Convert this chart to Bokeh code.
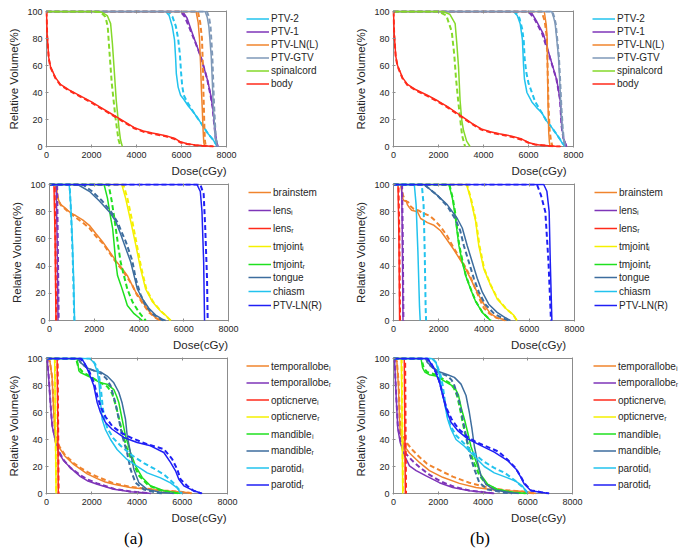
from bokeh.plotting import figure
from bokeh.models import (Legend, LegendItem, Title, LinearAxis, FixedTicker,
                          Range1d)
from bokeh.layouts import column, row
from bokeh.embed import file_html
from bokeh.resources import INLINE

# ---------------------------------------------------------------- data
X_TICKS = [0, 2000, 4000, 6000, 8000]
Y_TICKS = [0, 20, 40, 60, 80, 100]

# ---- panel (a) top
A1_PTV2_S = [(0,100),(5300,100),(5450,97),(5590,89),(5690,79),(5740,65),(5770,54),(5850,44),(5960,38),(6100,35),(6300,30),(6550,25),(6800,19),(7000,14),(7200,9),(7360,6),(7480,3),(7590,0)]
A1_PTV2_D = [(0,100),(5400,100),(5600,96),(5750,89),(5850,80),(5930,68),(5980,55),(6030,45),(6100,38),(6250,33),(6550,25),(6800,19),(7000,14),(7200,9),(7380,5.5),(7500,2.5),(7610,0)]
A1_PTV1_S = [(0,100),(6050,100),(6250,95),(6500,83),(6870,66),(7160,49),(7300,38),(7390,29),(7460,17),(7530,6),(7620,0)]
A1_PTV1_D = [(0,100),(5950,100),(6150,96),(6450,84),(6850,67),(7140,50),(7290,38),(7380,29),(7450,17),(7520,6),(7600,0)]
A1_PTVLNL_S = [(0,100),(6650,100),(6740,92),(6800,80),(6850,60),(6890,40),(6920,29),(6960,12),(6990,3),(7030,0)]
A1_PTVLNL_D = [(0,100),(6730,100),(6830,92),(6910,80),(6950,60),(6975,40),(6995,29),(7020,12),(7045,4),(7080,0)]
A1_GTV_S = [(0,100),(7050,100),(7140,96),(7215,89),(7320,67),(7370,48),(7410,30),(7470,14),(7510,5),(7600,0)]
A1_GTV_D = [(0,100),(7130,100),(7220,96),(7290,89),(7370,67),(7410,48),(7450,30),(7500,14),(7540,5),(7630,0)]
A1_CORD_S = [(0,100),(2150,100),(2450,99.5),(2700,97),(2850,91),(2930,76),(3000,59),(3100,34),(3220,14),(3290,5),(3370,0)]
A1_CORD_D = [(0,100),(2100,100),(2400,99.5),(2620,96),(2720,89),(2790,72),(2900,47),(3060,22),(3200,5),(3290,0)]
A1_BODY_S = [(0,100),(30,83),(100,66),(180,59),(400,51),(620,46),(1000,42),(1500,37.5),(2000,33),(2400,29),(2800,25),(3150,21.5),(3500,18),(3900,14),(4300,11.5),(4700,10),(5300,8),(5700,6),(5950,3.5),(6250,2),(6600,1.2),(6900,0.7),(7200,0.3),(7450,0)]
A1_BODY_D = [(0,100),(30,82),(100,65),(180,58.5),(400,50.5),(620,45.5),(1000,41.5),(1500,37),(2000,32.5),(2400,28.5),(2800,24.5),(3150,21),(3500,17.5),(3900,13.5),(4300,11),(4700,9.5),(5300,7.5),(5700,5.5),(5950,3),(6250,1.8),(6600,1),(6900,0.5),(7200,0.2),(7400,0)]

# ---- panel (b) top
B1_PTV2_S = [(0,100),(5330,100),(5500,97),(5630,91),(5730,79),(5780,60),(5820,50),(5930,40),(6150,33),(6350,29),(6590,25),(6800,19),(7040,14),(7250,9),(7410,5),(7520,2),(7630,0)]
B1_PTV2_D = [(0,100),(5400,100),(5600,95),(5720,87),(5790,78),(5830,65),(5900,55),(6000,47),(6150,40),(6300,33),(6590,25),(6800,19),(7040,14),(7250,9),(7420,5),(7540,2),(7640,0)]
B1_PTV1_S = [(0,100),(6100,100),(6350,93),(6670,83),(6960,66),(7260,49),(7410,34),(7480,14),(7560,6),(7700,0)]
B1_PTV1_D = [(0,100),(6000,100),(6250,95),(6600,84),(6930,67),(7240,50),(7400,35),(7470,15),(7550,6),(7680,0)]
B1_PTVLNL_S = [(0,100),(6700,100),(6790,90),(6830,80),(6850,50),(6870,30),(6900,10),(6930,3),(6960,0)]
B1_PTVLNL_D = [(0,100),(6580,100),(6720,93),(6820,80),(6860,50),(6890,30),(6940,12),(7000,4),(7070,0)]
B1_GTV_S = [(0,100),(7030,100),(7110,96),(7185,91),(7330,67),(7390,48),(7440,30),(7500,14),(7556,5),(7630,0)]
B1_GTV_D = [(0,100),(7060,100),(7140,96),(7210,91),(7350,67),(7410,48),(7460,30),(7520,14),(7570,5),(7650,0)]
B1_CORD_S = [(0,100),(2200,100),(2500,98),(2740,91),(2815,76),(2890,59),(2960,34),(3030,20),(3110,12),(3250,4),(3400,0)]
B1_CORD_D = [(0,100),(2000,100),(2350,97),(2590,85),(2700,68),(2780,50),(2880,33),(2980,18),(3050,8),(3180,0)]
B1_BODY_S = [(0,100),(30,84),(100,67),(180,60),(400,51),(620,46),(1000,42),(1500,38),(2000,33.5),(2400,29.5),(2800,25),(3150,21),(3500,17),(3900,13),(4300,11),(4700,9.5),(5300,7.5),(5700,5.5),(6000,3),(6300,1.5),(6600,1),(6900,0.5),(7200,0.2),(7450,0)]
B1_BODY_D = [(0,100),(30,83),(100,66),(180,59.5),(400,50.5),(620,45.5),(1000,41.5),(1500,37.5),(2000,33),(2400,29),(2800,24.5),(3150,20.5),(3500,16.5),(3900,12.5),(4300,10.5),(4700,9),(5300,7),(5700,5),(6000,2.8),(6300,1.4),(6600,0.9),(6900,0.4),(7200,0.1),(7400,0)]

# ---- panel (a) middle
A2_BRAIN_S = [(0,100),(270,100),(330,95),(370,90),(450,87),(520,85),(680,83),(815,81),(963,79),(1185,77),(1480,74),(1780,70),(2070,64),(2370,58),(2670,51),(2960,44),(3260,38),(3480,33),(3630,28),(3850,21),(4150,14),(4440,7),(4740,2),(4960,0)]
A2_BRAIN_D = [(0,100),(280,100),(340,94),(400,88),(500,85),(700,82),(900,79),(1150,76),(1480,72),(1780,68),(2070,62),(2370,57),(2670,50),(2960,43),(3260,37),(3500,31),(3700,26),(3900,19),(4150,13),(4440,6),(4740,2),(4960,0)]
A2_LENSL_S = [(0,100),(300,100),(340,60),(380,0)]
A2_LENSL_D = [(0,100),(340,100),(370,60),(410,0)]
A2_LENSR_S = [(0,100),(200,100),(250,60),(290,0)]
A2_LENSR_D = [(0,100),(230,100),(265,60),(300,0)]
A2_TMJL_S = [(0,100),(3230,100),(3400,90),(3630,73),(3850,56),(4070,38),(4300,23),(4590,14),(4960,7),(5180,4),(5410,0)]
A2_TMJL_D = [(0,100),(3300,100),(3480,90),(3700,73),(3900,56),(4110,38),(4330,23),(4620,14),(4970,7),(5200,3.5),(5420,0)]
A2_TMJR_S = [(0,100),(2440,100),(2590,90),(2740,75),(2820,68),(2890,56),(2960,43),(3040,33),(3190,26),(3330,19),(3480,11),(3780,5),(4150,0)]
A2_TMJR_D = [(0,100),(2640,100),(2780,88),(2900,75),(2960,68),(3060,56),(3180,43),(3280,36),(3480,23),(3700,14),(4000,6),(4300,0)]
A2_TONGUE_S = [(0,100),(1260,100),(1780,95),(2220,88),(2670,80),(2960,73),(3190,63),(3410,53),(3630,43),(3780,33),(3930,23),(4150,16),(4440,9),(4740,4),(5040,1),(5190,0)]
A2_TONGUE_D = [(0,100),(1480,100),(1900,95),(2350,88),(2750,80),(3050,72),(3250,64),(3410,58),(3700,44),(3850,31),(4070,19),(4300,11),(4600,5),(4900,1.5),(5100,0)]
A2_CHIASM_S = [(0,100),(880,100),(950,85),(1020,60),(1080,30),(1120,0)]
A2_CHIASM_D = [(0,100),(900,100),(960,80),(1040,45),(1090,12),(1110,0)]
A2_PTVLNR_S = [(0,100),(6590,100),(6740,95),(6815,80),(6890,43),(6930,0)]
A2_PTVLNR_D = [(0,100),(6740,100),(6890,93),(6960,68),(7040,31),(7070,0)]

# ---- panel (b) middle
B2_BRAIN_S = [(0,100),(320,100),(400,90),(470,88),(560,88),(620,85),(700,83),(800,81),(1060,80),(1200,75),(1500,72),(1790,70),(2080,66),(2380,59),(2670,52),(2970,44),(3190,38),(3400,31),(3630,23),(3850,16),(4070,10),(4290,5),(4580,2),(5020,0)]
B2_BRAIN_D = [(0,100),(340,100),(420,92),(520,88),(650,87),(750,84),(900,82),(1100,81),(1300,79),(1600,77),(1800,74),(2080,69),(2380,62),(2670,53),(2970,45),(3190,39),(3400,32),(3600,24),(3800,16),(4000,9),(4250,5),(4550,2),(4950,0)]
B2_LENSL_S = [(0,100),(360,100),(390,60),(420,0)]
B2_LENSL_D = [(0,100),(380,100),(410,60),(440,0)]
B2_LENSR_S = [(0,100),(200,100),(240,60),(270,0)]
B2_LENSR_D = [(0,100),(220,100),(260,60),(290,0)]
B2_TMJL_S = [(0,100),(3230,100),(3400,90),(3630,73),(3770,55),(3990,38),(4290,26),(4580,16),(4950,9),(5310,4),(5460,0)]
B2_TMJL_D = [(0,100),(3250,100),(3420,90),(3650,73),(3800,55),(4010,38),(4300,26),(4600,16),(4960,9),(5300,4),(5450,0)]
B2_TMJR_S = [(0,100),(2450,100),(2600,90),(2700,80),(2790,68),(2890,55),(3040,43),(3190,33),(3410,23),(3630,14),(3920,6),(4290,0)]
B2_TMJR_D = [(0,100),(2470,100),(2620,90),(2720,80),(2810,68),(2910,55),(3060,43),(3200,33),(3420,23),(3640,14),(3930,6),(4300,0)]
B2_TONGUE_S = [(0,100),(1350,100),(1940,92),(2380,85),(2820,75),(3040,68),(3260,55),(3480,43),(3700,31),(3920,21),(4210,12),(4580,6),(4950,2),(5170,0)]
B2_TONGUE_D = [(0,100),(1350,100),(1940,92),(2380,84),(2750,74),(2950,66),(3110,55),(3330,43),(3550,31),(3770,21),(4050,12),(4450,5),(4850,1.5),(5100,0)]
B2_CHIASM_S = [(0,100),(920,100),(1000,85),(1080,50),(1150,10),(1180,0)]
B2_CHIASM_D = [(0,100),(1250,100),(1330,85),(1380,50),(1420,10),(1440,0)]
B2_PTVLNR_S = [(0,100),(6640,100),(6780,95),(6880,80),(6930,43),(7000,0)]
B2_PTVLNR_D = [(0,100),(6340,100),(6520,92),(6710,80),(6850,43),(6960,0)]

# ---- panel (a) bottom
A3_TEMPL_S = [(0,100),(150,98),(250,85),(320,60),(380,45),(450,38),(600,33),(800,28),(1200,21.5),(1500,18),(1800,14.5),(2240,11),(2600,8.5),(2975,6.9),(3700,4.5),(4450,3.2),(5190,2),(5920,1.2),(6300,0.5),(6400,0)]
A3_TEMPL_D = [(0,100),(150,98),(250,86),(320,62),(380,46),(450,39),(600,34),(800,29),(1200,22.5),(1500,19),(1800,16),(2090,13.5),(2600,10),(2975,7.5),(3700,5),(4450,3.5),(5190,2.2),(5920,1.3),(6300,0.6),(6420,0)]
A3_TEMPR_S = [(0,100),(30,100),(100,85),(180,65),(250,50),(400,38),(550,30),(770,24),(1060,19),(1500,12.5),(1800,9.5),(2240,6.9),(2975,3.2),(3710,1.3),(4450,0.3),(4600,0)]
A3_TEMPR_D = [(0,100),(30,100),(100,86),(180,66),(250,51),(400,39),(550,31),(770,24.5),(1060,19),(1500,13.5),(1800,10.5),(2240,7.5),(2975,3.5),(3710,1.5),(4450,0.4),(4600,0)]
A3_OPTL_S = [(0,100),(470,100),(500,50),(520,0)]
A3_OPTL_D = [(0,100),(490,100),(515,50),(535,0)]
A3_OPTR_S = [(0,100),(360,100),(395,50),(425,0)]
A3_OPTR_D = [(0,100),(370,100),(400,50),(430,0)]
A3_MANDL_S = [(0,100),(1350,100),(1430,91),(1503,89.6),(1945,86),(2387,82),(2682,81),(2975,77),(3100,72),(3196,67.4),(3343,55),(3492,42.7),(3713,30.4),(3934,20.5),(4229,11.9),(4597,5.7),(5186,2),(5923,0)]
A3_MANDL_D = [(0,100),(1300,100),(1400,94),(1600,90),(2000,86),(2400,82),(2700,79),(2900,74),(3050,66),(3200,56),(3350,45),(3550,34),(3800,23),(4100,13),(4500,6),(5100,2),(5850,0)]
A3_MANDR_S = [(0,100),(1400,100),(1503,97),(1797,93),(2093,91),(2387,90),(2682,87),(2975,82),(3196,75),(3343,67),(3492,55),(3565,43),(3713,30),(3860,18),(4082,8),(4450,3),(5040,1),(5630,0)]
A3_MANDR_D = [(0,100),(1400,100),(1550,96),(1800,93),(2100,91),(2400,89),(2650,85),(2829,80),(3049,67),(3196,55),(3343,43),(3565,30),(3713,18),(3934,8),(4303,3),(4800,0.8),(5100,0)]
A3_PAROL_S = [(0,100),(1900,100),(2100,97),(2250,90),(2330,80),(2390,67),(2460,55),(2600,47.5),(2830,40),(3120,32.6),(3560,25.2),(4000,20.2),(4450,15.3),(5040,11.6),(5480,7.9),(5775,4.2),(5923,0.5),(6000,0)]
A3_PAROL_D = [(0,100),(1950,100),(2150,96),(2300,90),(2400,78),(2480,65),(2560,55),(2700,48),(2950,41),(3300,35),(3800,28),(4300,22.5),(4800,18),(5200,14),(5600,8),(5850,3),(6000,0)]
A3_PAROR_S = [(0,100),(1550,100),(1700,96),(1871,89.6),(2092,79.8),(2241,67.4),(2387,60),(2608,52.6),(2903,47.6),(3417,41.5),(4008,37.8),(4597,35.3),(5186,30.4),(5481,23),(5702,16.8),(5849,10.6),(6070,5.7),(6513,2),(6880,0)]
A3_PAROR_D = [(0,100),(1500,100),(1650,97),(1900,90),(2100,82),(2250,72),(2400,64),(2600,57),(2900,50),(3300,45),(3713,41.5),(4450,36.5),(5186,32.9),(5555,25.5),(5775,18),(5923,10.6),(6217,5.7),(6500,2),(6850,0)]

# ---- panel (b) bottom
B3_TEMPL_S = [(0,100),(150,98),(220,80),(268,55),(300,45),(491,35),(714,30),(1160,23),(1606,17),(2201,12),(2944,7.5),(3688,4.4),(4431,2.7),(5175,2),(5918,1.4),(6364,0)]
B3_TEMPL_D = [(0,100),(150,98),(230,82),(280,58),(330,46),(565,38),(860,32),(1160,27),(1500,22),(1903,18.5),(2647,12.5),(3390,8),(4134,4.8),(4900,2.6),(5700,1.6),(6300,0)]
B3_TEMPR_S = [(0,100),(45,100),(119,72),(193,48),(297,38),(491,28),(714,20.5),(1011,17),(1457,13),(2052,8),(2647,4.4),(3390,2),(4134,0.7),(4505,0)]
B3_TEMPR_D = [(0,100),(45,100),(119,73),(193,50),(297,40),(520,30),(860,24),(1200,19),(1600,14),(2100,9),(2700,5),(3400,2.2),(4134,0.8),(4500,0)]
B3_OPTL_S = [(0,100),(480,100),(505,50),(530,0)]
B3_OPTL_D = [(0,100),(520,100),(540,50),(560,0)]
B3_OPTR_S = [(0,100),(350,100),(385,50),(415,0)]
B3_OPTR_D = [(0,100),(365,100),(395,50),(425,0)]
B3_MANDL_S = [(0,100),(1230,100),(1300,93),(1400,90),(1600,88),(1900,87),(2200,84),(2500,81),(2720,79),(2900,73),(3050,62),(3170,55),(3320,45),(3460,35),(3680,24),(3900,14),(4200,7),(4700,2.7),(5400,0.7),(6000,0)]
B3_MANDL_D = [(0,100),(1250,100),(1350,93),(1500,90),(1900,88),(2200,85),(2500,82),(2700,78),(2850,72),(2980,62),(3100,52),(3230,42),(3400,32),(3620,22),(3850,13),(4150,7),(4600,3),(5300,0.8),(5900,0)]
B3_MANDR_S = [(0,100),(1450,100),(1530,96.8),(1976,90.6),(2422,88),(2721,86),(3018,81),(3241,72.6),(3390,60),(3509,47.6),(3613,35),(3761,23),(3910,13),(4134,6.8),(4505,2.6),(5249,0.6),(5600,0)]
B3_MANDR_D = [(0,100),(1450,100),(1550,96),(1980,90),(2420,87),(2600,84),(2721,80),(2944,68),(3093,55),(3241,43),(3390,30),(3613,18),(3836,8),(4208,3),(4952,0.6),(5300,0)]
B3_PAROL_S = [(0,100),(1700,100),(1900,97),(2050,88),(2126,79.8),(2275,67.4),(2422,55),(2571,47.6),(2794,40),(3167,35),(3613,27.6),(4059,20),(4505,15.3),(5100,11.6),(5472,9),(5769,5.4),(5918,1.7),(6000,0)]
B3_PAROL_D = [(0,100),(1750,100),(1900,97),(2100,88),(2200,80),(2300,68),(2400,58),(2550,50),(2800,43),(3100,38),(3500,31),(4000,24),(4500,19),(5000,15),(5400,10),(5750,5),(5950,1.5),(6050,0)]
B3_PAROR_S = [(0,100),(1530,100),(1827,92),(2052,82.6),(2200,72.6),(2349,62.7),(2571,52.8),(2869,46.6),(3316,40.5),(3910,35.5),(4505,30.6),(5100,24.4),(5472,18.2),(5695,12),(5844,7),(6142,2.1),(6588,0.9),(6960,0)]
B3_PAROR_D = [(0,100),(1500,100),(1700,96),(1950,88),(2100,80),(2250,70),(2400,62),(2600,55),(2900,48),(3300,42),(3700,38),(4200,34.5),(4700,31),(5100,25),(5450,19),(5690,12.5),(5850,7.5),(6150,2.3),(6600,1),(6950,0)]

# ---------------------------------------------------------------- style
CYAN = "#22C3EE"
PURPLE = "#7E35B8"
ORANGE = "#F0842D"
GRAY = "#7E98B8"
LIME = "#85D92A"
RED = "#FF2A1A"
YELLOW = "#F5F000"
GREEN = "#1FE01F"
SLATE = "#3D6D9E"
BLUE = "#1F1FF5"

FONT = "Liberation Sans"
TXT = "#262626"
FRAME = "#8c8c8c"

TOP_ITEMS = [("PTV-2", CYAN), ("PTV-1", PURPLE), ("PTV-LN(L)", ORANGE),
             ("PTV-GTV", GRAY), ("spinalcord", LIME), ("body", RED)]
MID_ITEMS = [("brainstem", ORANGE), ("lens\u2097", PURPLE), ("lens\u1d63", RED),
             ("tmjoint\u2097", YELLOW), ("tmjoint\u1d63", GREEN), ("tongue", SLATE),
             ("chiasm", CYAN), ("PTV-LN(R)", BLUE)]
BOT_ITEMS = [("temporallobe\u2097", ORANGE), ("temporallobe\u1d63", PURPLE),
             ("opticnerve\u2097", RED), ("opticnerve\u1d63", YELLOW),
             ("mandible\u2097", GREEN), ("mandible\u1d63", SLATE),
             ("parotid\u2097", CYAN), ("parotid\u1d63", BLUE)]

A1 = [(A1_PTV2_S, A1_PTV2_D), (A1_PTV1_S, A1_PTV1_D), (A1_PTVLNL_S, A1_PTVLNL_D),
      (A1_GTV_S, A1_GTV_D), (A1_CORD_S, A1_CORD_D), (A1_BODY_S, A1_BODY_D)]
B1 = [(B1_PTV2_S, B1_PTV2_D), (B1_PTV1_S, B1_PTV1_D), (B1_PTVLNL_S, B1_PTVLNL_D),
      (B1_GTV_S, B1_GTV_D), (B1_CORD_S, B1_CORD_D), (B1_BODY_S, B1_BODY_D)]
A2 = [(A2_BRAIN_S, A2_BRAIN_D), (A2_LENSL_S, A2_LENSL_D), (A2_LENSR_S, A2_LENSR_D),
      (A2_TMJL_S, A2_TMJL_D), (A2_TMJR_S, A2_TMJR_D), (A2_TONGUE_S, A2_TONGUE_D),
      (A2_CHIASM_S, A2_CHIASM_D), (A2_PTVLNR_S, A2_PTVLNR_D)]
B2 = [(B2_BRAIN_S, B2_BRAIN_D), (B2_LENSL_S, B2_LENSL_D), (B2_LENSR_S, B2_LENSR_D),
      (B2_TMJL_S, B2_TMJL_D), (B2_TMJR_S, B2_TMJR_D), (B2_TONGUE_S, B2_TONGUE_D),
      (B2_CHIASM_S, B2_CHIASM_D), (B2_PTVLNR_S, B2_PTVLNR_D)]
A3 = [(A3_TEMPL_S, A3_TEMPL_D), (A3_TEMPR_S, A3_TEMPR_D), (A3_OPTL_S, A3_OPTL_D),
      (A3_OPTR_S, A3_OPTR_D), (A3_MANDL_S, A3_MANDL_D), (A3_MANDR_S, A3_MANDR_D),
      (A3_PAROL_S, A3_PAROL_D), (A3_PAROR_S, A3_PAROR_D)]
B3 = [(B3_TEMPL_S, B3_TEMPL_D), (B3_TEMPR_S, B3_TEMPR_D), (B3_OPTL_S, B3_OPTL_D),
      (B3_OPTR_S, B3_OPTR_D), (B3_MANDL_S, B3_MANDL_D), (B3_MANDR_S, B3_MANDR_D),
      (B3_PAROL_S, B3_PAROL_D), (B3_PAROR_S, B3_PAROR_D)]


def base_axis(ax, ticks):
    ax.ticker = FixedTicker(ticks=ticks)
    ax.major_tick_in = 3
    ax.major_tick_out = 0
    ax.minor_tick_line_color = None
    ax.major_tick_line_color = FRAME
    ax.axis_line_color = None


def make_panel(curves, items, fig_w, plot_left, plot_w, plot_top, plot_h, fig_h,
               legends, caption=None):
    """The frame spans the plot box (plus 1px) and the legend area to its right.
    plot_left / plot_top are in pixels from the figure's top-left corner."""
    ml = plot_left - 1
    mt = plot_top - 1
    fw = fig_w - ml
    fh = plot_h + 2
    mb = fig_h - mt - fh
    sx = (X_TICKS[-1] - X_TICKS[0]) / plot_w
    sy = (Y_TICKS[-1] - Y_TICKS[0]) / plot_h
    p = figure(frame_width=fw, frame_height=fh,
               min_border_left=ml, min_border_right=0,
               min_border_top=mt, min_border_bottom=mb,
               x_range=Range1d(X_TICKS[0] - sx, X_TICKS[0] - sx + fw * sx),
               y_range=Range1d(Y_TICKS[0] - sy, Y_TICKS[-1] + sy),
               output_backend="svg", toolbar_location=None, title=None)
    p.xgrid.visible = False
    p.ygrid.visible = False
    p.outline_line_color = None
    p.background_fill_color = "white"
    p.border_fill_color = "white"
    xa, ya = p.xaxis[0], p.yaxis[0]
    xa.axis_label = "Dose(cGy)"
    ya.axis_label = "Relative Volume(%)"
    base_axis(xa, X_TICKS)
    base_axis(ya, Y_TICKS)
    xa.bounds = (X_TICKS[0], X_TICKS[-1])
    for ax in (xa, ya):
        ax.major_label_text_font = FONT
        ax.major_label_text_font_size = "9px"
        ax.major_label_text_color = TXT
        ax.axis_label_text_font = FONT
        ax.axis_label_text_font_size = "11.5px"
        ax.axis_label_text_font_style = "normal"
        ax.axis_label_text_color = TXT
    xa.major_label_standoff = 4
    xa.axis_label_standoff = 4
    ya.major_label_standoff = 3
    ya.axis_label_standoff = 4
    # inward ticks along the top edge (box on), without labels
    ta = LinearAxis(major_label_text_color=None, major_label_text_font_size="1px",
                    major_label_standoff=0, bounds=(X_TICKS[0], X_TICKS[-1]))
    base_axis(ta, X_TICKS)
    p.add_layout(ta, "above")

    # axes box
    p.quad(left=[X_TICKS[0]], right=[X_TICKS[-1]], bottom=[Y_TICKS[0]], top=[Y_TICKS[-1]],
           fill_color=None, line_color=FRAME, line_width=1)

    solids = []
    for (sol, das), (name, color) in zip(curves, items):
        r = p.line([d for d, v in sol], [v for d, v in sol],
                   line_color=color, line_width=1.5)
        p.line([d for d, v in das], [v for d, v in das],
               line_color=color, line_width=2.0, line_dash="5 3")
        solids.append(r)

    # legends: (first, last, row height, x of key from box left, top of legend from fig top)
    for (i0, i1, h, lx, ltop) in legends:
        n = i1 - i0
        legend = Legend(items=[LegendItem(label=items[i][0], renderers=[solids[i]])
                               for i in range(i0, i1)],
                        location=(lx + 1, (mt + fh) - (ltop + n * h)),
                        orientation="vertical",
                        border_line_alpha=0, background_fill_alpha=0,
                        padding=0, margin=0, spacing=0,
                        glyph_width=23, glyph_height=h, label_height=h,
                        label_standoff=2, label_text_font=FONT,
                        label_text_font_size="10px", label_text_color=TXT)
        p.add_layout(legend)

    if caption:
        p.add_layout(Title(text=caption, align="left", offset=plot_w / 2 - 12,
                           text_font="Liberation Serif",
                           text_font_size="17px", text_font_style="normal",
                           text_color="black", standoff=0), "below")
    return p


LEFT_W = 352
RIGHT_W = 330
# row 1: y 0..180
pa1 = make_panel(A1, TOP_ITEMS, LEFT_W, 46, 180, 11, 135, 180, [(0, 6, 13, 200, 12)])
pb1 = make_panel(B1, TOP_ITEMS, RIGHT_W, 38, 180, 11, 135, 180, [(0, 6, 13, 199, 12)])
# row 2: y 180..354
pa2 = make_panel(A2, MID_ITEMS, LEFT_W, 49, 179, 4, 136, 174,
                 [(0, 5, 18, 199, 3), (5, 8, 14, 199, 90)])
pb2 = make_panel(B2, MID_ITEMS, RIGHT_W, 39, 181, 4, 136, 174,
                 [(0, 5, 18, 201, 3), (5, 8, 14, 201, 90)])
# row 3: y 354..550
pa3 = make_panel(A3, BOT_ITEMS, LEFT_W, 46, 181, 4, 135, 196,
                 [(0, 8, 17, 200, 3)], "(a)")
pb3 = make_panel(B3, BOT_ITEMS, RIGHT_W, 39, 179, 4, 135, 196,
                 [(0, 8, 17, 200, 3)], "(b)")

layout = column(row(pa1, pb1), row(pa2, pb2), row(pa3, pb3))
open("out.html", "w").write(file_html(layout, INLINE))
